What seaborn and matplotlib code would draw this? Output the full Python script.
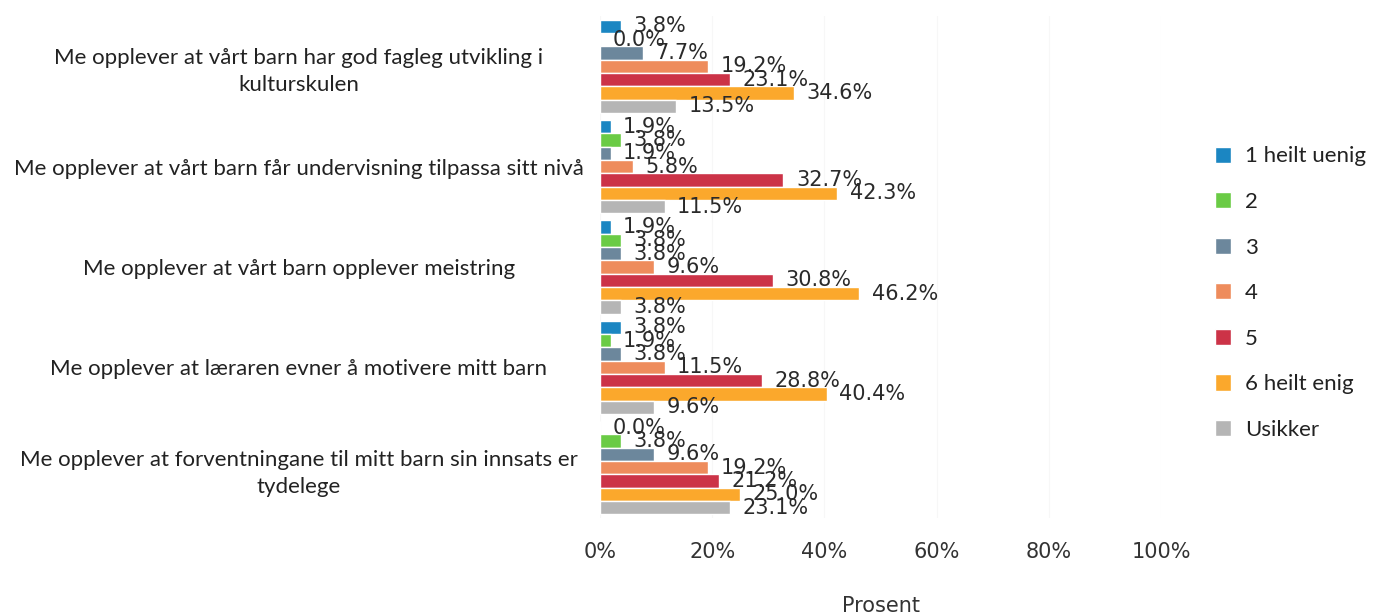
import numpy as np
import pandas as pd
import matplotlib
matplotlib.use("Agg")
import matplotlib.pyplot as plt
import seaborn as sns

questions = [
    "Me opplever at vårt barn har god fagleg utvikling i\nkulturskulen",
    "Me opplever at vårt barn får undervisning tilpassa sitt nivå",
    "Me opplever at vårt barn opplever meistring",
    "Me opplever at læraren evner å motivere mitt barn",
    "Me opplever at forventningane til mitt barn sin innsats er\ntydelege",
]
levels = ["1 heilt uenig", "2", "3", "4", "5", "6 heilt enig", "Usikker"]

heilt_uenig = [3.8, 1.9, 1.9, 3.8, 0.0]
svar_2 = [0.0, 3.8, 3.8, 1.9, 3.8]
svar_3 = [7.7, 1.9, 3.8, 3.8, 9.6]
svar_4 = [19.2, 5.8, 9.6, 11.5, 19.2]
svar_5 = [23.1, 32.7, 30.8, 28.8, 21.2]
heilt_enig = [34.6, 42.3, 46.2, 40.4, 25.0]
usikker = [13.5, 11.5, 3.8, 9.6, 23.1]

colors = ["#1b86c2", "#6acb45", "#6c879c", "#ee8c5c", "#cc3347", "#fba82c", "#b5b5b5"]

series = [heilt_uenig, svar_2, svar_3, svar_4, svar_5, heilt_enig, usikker]
rows = []
for lvl, vals in zip(levels, series):
    for q, v in zip(questions, vals):
        rows.append({"question": q, "level": lvl, "value": v})
df = pd.DataFrame(rows)

sns.set_style("white")
fig = plt.figure(figsize=(13.84, 6.16), dpi=100)
ax = fig.add_axes([600 / 1384, 1 - 518 / 616, 561 / 1384, 502 / 616])

sns.barplot(data=df, y="question", x="value", hue="level", hue_order=levels,
            order=questions, palette=colors, saturation=1, width=0.93,
            orient="h", ax=ax, errorbar=None)

for cont in ax.containers:
    ax.bar_label(cont, fmt="%.1f%%", padding=9, fontsize=15,
                 family="DejaVu Sans", color="#2a2a2a")

ax.set_xlim(0, 100)
ax.set_xticks(np.arange(0, 101, 20))
ax.set_xticklabels([f"{t}%" for t in range(0, 101, 20)], fontsize=15,
                   family="DejaVu Sans", color="#333333")
ax.tick_params(axis="x", pad=17, length=0)
# centre the question labels around x ~ 298 px
ax.tick_params(axis="y", length=0, pad=217)
ax.set_yticks(range(len(questions)))
ax.set_yticklabels(questions, fontsize=16, family="Lato", color="#222222")
for lab in ax.get_yticklabels():
    lab.set_horizontalalignment("center")
    lab.set_multialignment("center")
    lab.set_linespacing(1.45)
ax.set_ylabel("")
ax.set_xlabel("Prosent", fontsize=15, family="DejaVu Sans", color="#333333",
              labelpad=25)
for s in ax.spines.values():
    s.set_visible(False)
ax.grid(axis="x", color="#f7f7f7", linewidth=0.8)
ax.set_axisbelow(True)

leg = ax.legend(loc="upper left", bbox_to_anchor=(1.06, 0.78), frameon=False,
                prop={"family": "Lato", "size": 16}, handlelength=0.75,
                handleheight=0.75, labelspacing=1.15, handletextpad=0.6)
for t in leg.get_texts():
    t.set_color("#222222")

fig.savefig("out.png", dpi=100)
